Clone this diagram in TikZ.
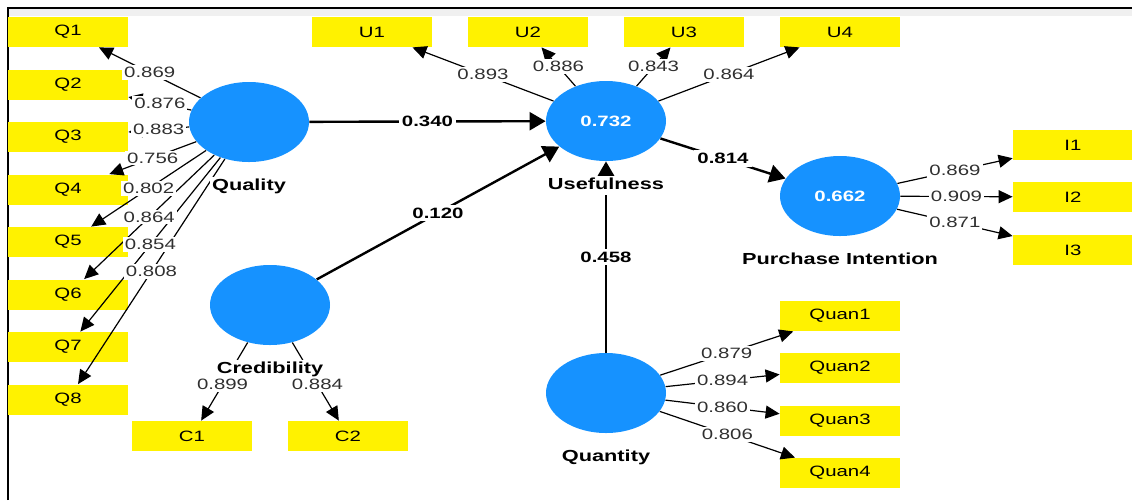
\documentclass[tikz,border=0pt]{standalone}
\usepackage{fontspec}
\setmainfont{Liberation Sans}[FakeStretch=1.36]
\usetikzlibrary{shapes.geometric,arrows.meta,positioning}
\definecolor{lvblue}{RGB}{22,146,255}
\definecolor{loadgrey}{RGB}{48,48,48}
\definecolor{bandgrey}{RGB}{240,240,240}

\begin{document}
\begin{tikzpicture}[x=0.5pt,y=-0.5pt,
	latent_node/.style={ellipse,fill=lvblue,minimum width=60pt,minimum height=40pt,inner sep=0pt,text=white,font=\bfseries\fontsize{7.5}{9}\selectfont},
	item_node/.style={rectangle,fill=yellow,minimum width=60pt,minimum height=15pt,inner sep=0pt,font=\fontsize{7.5}{9}\selectfont},
	name_node/.style={fill=white,inner sep=1pt,text height=6pt,text depth=1.7pt,font=\bfseries\fontsize{8}{9}\selectfont},
	load_edge/.style={line width=0.6pt,-{Triangle[length=7pt,width=6.5pt]}},
	path_edge/.style={line width=1.2pt,-{Triangle[length=8pt,width=9pt]}},
	load_label/.style={fill=white,inner xsep=1pt,inner ysep=1pt,text=loadgrey,font=\fontsize{7.5}{9}\selectfont},
	coef_label/.style={fill=white,inner sep=1.5pt,font=\bfseries\fontsize{7.5}{9}\selectfont}]
	\useasboundingbox (0,0) rectangle (1132,500);
	\fill[bandgrey] (8,9) rectangle (1132,16);
	\draw[line width=1pt] (7.5,500) -- (7.5,7.5) -- (1132,7.5);

	\node[latent_node] (qual) at (249,122) {};
	\node[latent_node] (cred) at (270,305) {};
	\node[latent_node] (usef) at (606,121) {0.732};
	\node[latent_node] (pint) at (840,196) {0.662};
	\node[latent_node] (quant) at (606,393) {};

	\node[item_node] (q1) at (68,32) {Q1};
	\node[item_node] (q2) at (68,84.5) {Q2};
	\node[item_node] (q3) at (68,137) {Q3};
	\node[item_node] (q4) at (68,189.5) {Q4};
	\node[item_node] (q5) at (68,242) {Q5};
	\node[item_node] (q6) at (68,294.5) {Q6};
	\node[item_node] (q7) at (68,347) {Q7};
	\node[item_node] (q8) at (68,399.5) {Q8};
	\node[item_node] (u1) at (372,32) {U1};
	\node[item_node] (u2) at (528,32) {U2};
	\node[item_node] (u3) at (684,32) {U3};
	\node[item_node] (u4) at (840,32) {U4};
	\node[item_node] (i1) at (1073,145) {I1};
	\node[item_node] (i2) at (1073,197) {I2};
	\node[item_node] (i3) at (1073,250) {I3};
	\node[item_node] (c1) at (192,436) {C1};
	\node[item_node] (c2) at (348,436) {C2};
	\node[item_node] (quan1) at (840,316) {Quan1};
	\node[item_node] (quan2) at (840,368) {Quan2};
	\node[item_node] (quan3) at (840,421) {Quan3};
	\node[item_node] (quan4) at (840,473) {Quan4};

	% inner model
	\draw[path_edge] (qual) -- (usef) coordinate[midway] (m_qual);
	\draw[path_edge] (cred) -- (usef) coordinate[midway] (m_cred);
	\draw[path_edge] (quant) -- (usef) coordinate[midway] (m_quant);
	\draw[path_edge] (usef) -- (pint) coordinate[midway] (m_usef);

	% outer loadings
	\draw[load_edge] (qual) -- (q1) coordinate[midway] (m_q1);
	\draw[load_edge] (qual) -- (q2) coordinate[midway] (m_q2);
	\draw[load_edge] (qual) -- (q3) coordinate[midway] (m_q3);
	\draw[load_edge] (qual) -- (q4) coordinate[midway] (m_q4);
	\draw[load_edge] (qual) -- (q5) coordinate[midway] (m_q5);
	\draw[load_edge] (qual) -- (q6) coordinate[midway] (m_q6);
	\draw[load_edge] (qual) -- (q7) coordinate[midway] (m_q7);
	\draw[load_edge] (qual) -- (q8) coordinate[midway] (m_q8);
	\draw[load_edge] (usef) -- (u1) coordinate[midway] (m_u1);
	\draw[load_edge] (usef) -- (u2) coordinate[midway] (m_u2);
	\draw[load_edge] (usef) -- (u3) coordinate[midway] (m_u3);
	\draw[load_edge] (usef) -- (u4) coordinate[midway] (m_u4);
	\draw[load_edge] (pint) -- (i1) coordinate[midway] (m_i1);
	\draw[load_edge] (pint) -- (i2) coordinate[midway] (m_i2);
	\draw[load_edge] (pint) -- (i3) coordinate[midway] (m_i3);
	\draw[load_edge] (cred) -- (c1) coordinate[pos=0.54] (m_c1);
	\draw[load_edge] (cred) -- (c2) coordinate[pos=0.54] (m_c2);
	\draw[load_edge] (quant) -- (quan1) coordinate[midway] (m_quan1);
	\draw[load_edge] (quant) -- (quan2) coordinate[midway] (m_quan2);
	\draw[load_edge] (quant) -- (quan3) coordinate[midway] (m_quan3);
	\draw[load_edge] (quant) -- (quan4) coordinate[midway] (m_quan4);

	\node[name_node,below=7pt of qual] (qual_name) {Quality};
	\node[name_node,below=7pt of cred] (cred_name) {Credibility};
	\node[name_node,below=7pt of usef] (usef_name) {Usefulness};
	\node[name_node,below=7pt of pint] (pint_name) {Purchase Intention};
	\node[name_node,below=7pt of quant] (quant_name) {Quantity};

	\node[coef_label] (l_qual) at (m_qual) {0.340};
	\node[coef_label] (l_cred) at (m_cred) {0.120};
	\node[coef_label] (l_quant) at (m_quant) {0.458};
	\node[coef_label] (l_usef) at (m_usef) {0.814};

	\node[load_label] (l_q1) at (m_q1) {0.869};
	\node[load_label] (l_q2) at (m_q2) {0.876};
	\node[load_label] (l_q3) at (m_q3) {0.883};
	\node[load_label] (l_q4) at (m_q4) {0.756};
	\node[load_label] (l_q5) at (m_q5) {0.802};
	\node[load_label] (l_q6) at (m_q6) {0.864};
	\node[load_label] (l_q7) at (m_q7) {0.854};
	\node[load_label] (l_q8) at (m_q8) {0.808};
	\node[load_label] (l_u1) at (m_u1) {0.893};
	\node[load_label] (l_u2) at (m_u2) {0.886};
	\node[load_label] (l_u3) at (m_u3) {0.843};
	\node[load_label] (l_u4) at (m_u4) {0.864};
	\node[load_label] (l_i1) at (m_i1) {0.869};
	\node[load_label] (l_i2) at (m_i2) {0.909};
	\node[load_label] (l_i3) at (m_i3) {0.871};
	\node[load_label] (l_c1) at (m_c1) {0.899};
	\node[load_label] (l_c2) at (m_c2) {0.884};
	\node[load_label] (l_quan1) at (m_quan1) {0.879};
	\node[load_label] (l_quan2) at (m_quan2) {0.894};
	\node[load_label] (l_quan3) at (m_quan3) {0.860};
	\node[load_label] (l_quan4) at (m_quan4) {0.806};
\end{tikzpicture}
\end{document}
